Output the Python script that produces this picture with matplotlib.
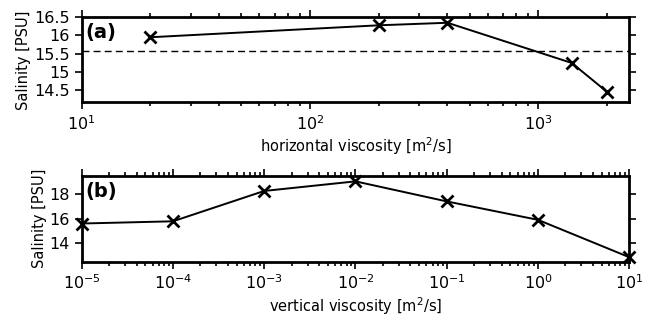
import numpy as np
import matplotlib
matplotlib.use('Agg')
import matplotlib.pyplot as plt

# salinidad frente a viscosidad horizontal
h_visc = [20, 200, 400, 1400, 2000]
h_sal = [15.95, 16.28, 16.35, 15.24, 14.44]
h_ref = 15.56

# salinidad frente a viscosidad vertical
v_visc = [1e-5, 1e-4, 1e-3, 1e-2, 1e-1, 1e0, 1e1]
v_sal = [15.6, 15.78, 18.25, 19.03, 17.4, 15.9, 12.86]

plt.rcParams['font.family'] = 'DejaVu Sans'
plt.rcParams['mathtext.default'] = 'regular'

fig = plt.figure(figsize=(6.51, 3.21), dpi=100)
ax1 = fig.add_axes([0.1255, 0.681, 0.841, 0.265])
ax2 = fig.add_axes([0.1255, 0.185, 0.841, 0.268])


def style_axis(ax):
    for sp in ax.spines.values():
        sp.set_linewidth(2)
    ax.tick_params(which='both', direction='out', top=True, right=True,
                   labelsize=11.5, width=1.2)
    ax.tick_params(which='major', length=5)
    ax.tick_params(which='minor', length=3)


# Panel (a)
ax1.semilogx(h_visc, h_sal, 'k-', marker='x', ms=9, mew=2, lw=1.4)
ax1.axhline(h_ref, color='k', ls=(0, (5, 3)), lw=1)
ax1.set_xlim(10, 2500)
ax1.set_ylim(14.15, 16.5)
ax1.set_yticks([14.5, 15, 15.5, 16, 16.5])
ax1.set_yticklabels(['14.5', '15', '15.5', '16', '16.5'])
ax1.set_xlabel('horizontal viscosity [m$^2$/s]', fontsize=10.5, labelpad=2)
ax1.set_ylabel('Salinity [PSU]', fontsize=10.5, labelpad=2)
ax1.text(0.006, 0.93, '(a)', transform=ax1.transAxes, fontsize=14,
         fontweight='bold', va='top', ha='left')
style_axis(ax1)

# Panel (b)
ax2.semilogx(v_visc, v_sal, 'k-', marker='x', ms=9, mew=2, lw=1.4, clip_on=False)
ax2.set_xlim(1e-5, 1e1)
ax2.set_ylim(12.5, 19.5)
ax2.set_yticks([14, 16, 18])
ax2.set_xticks(v_visc)
ax2.set_xlabel('vertical viscosity [m$^2$/s]', fontsize=10.5, labelpad=2)
ax2.set_ylabel('Salinity [PSU]', fontsize=10.5, labelpad=2)
ax2.text(0.006, 0.93, '(b)', transform=ax2.transAxes, fontsize=14,
         fontweight='bold', va='top', ha='left')
style_axis(ax2)

plt.savefig('out.png', dpi=100)
